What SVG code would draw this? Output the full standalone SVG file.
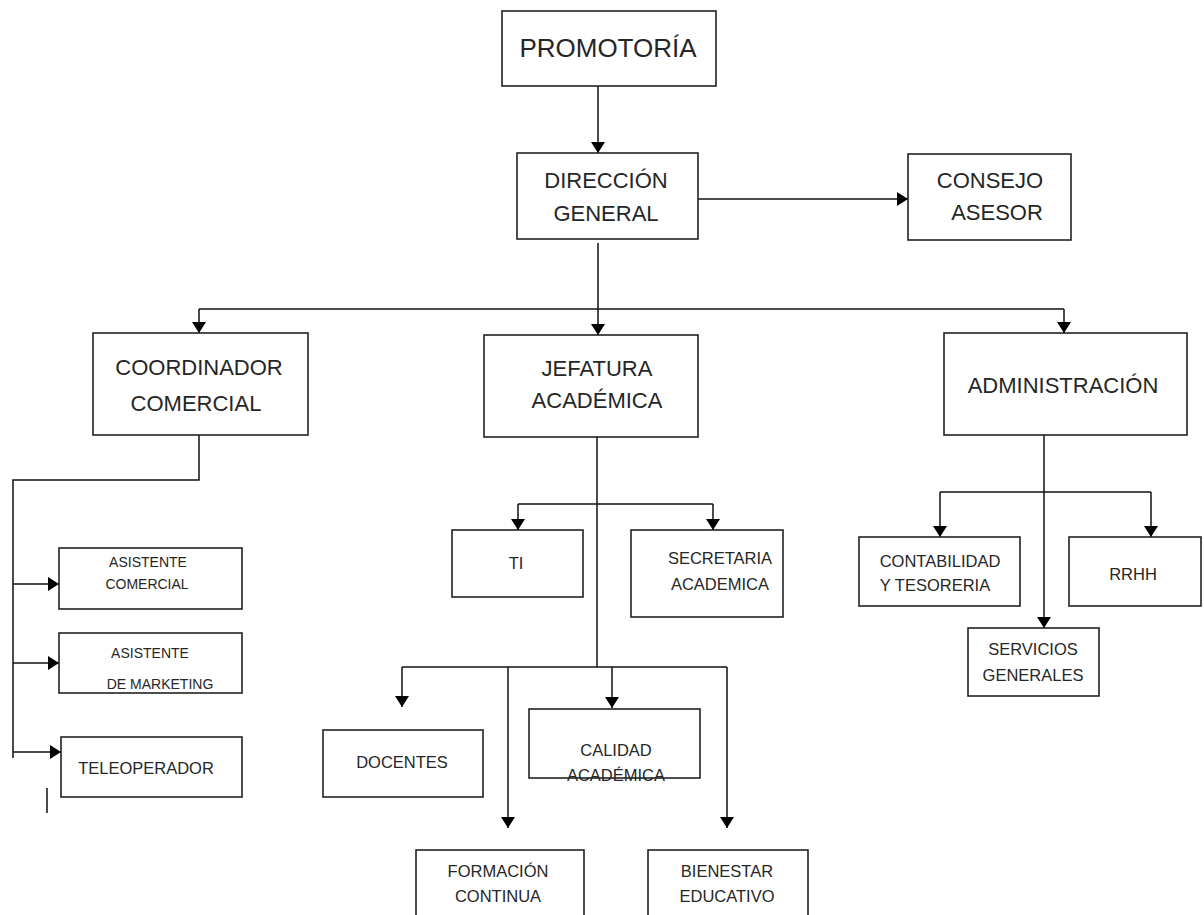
<svg xmlns="http://www.w3.org/2000/svg" width="1204" height="915" viewBox="0 0 1204 915">
<style>
.box{fill:#fff;stroke:#222;stroke-width:1.6}
.t{font-family:"Liberation Sans",Arial,sans-serif;fill:#262626;text-anchor:middle}
.xl{font-size:26px}
.l{font-size:22px}
.m{font-size:16.5px}
.s{font-size:14px}
.c{fill:none;stroke:#111;stroke-width:1.5}
.a{marker-end:url(#ah)}
</style>
<defs>
<marker id="ah" viewBox="0 0 11 14" refX="11" refY="7" markerWidth="11" markerHeight="14" orient="auto" markerUnits="userSpaceOnUse">
<path d="M0,0 L11,7 L0,14 z" fill="#000"/>
</marker>
</defs>
<g id="connectors">
<path class="c a" d="M598,86 V153"/>
<path class="c a" d="M698,199 H908"/>
<path class="c a" d="M598,243 V335"/>
<path class="c" d="M199,309 H1064"/>
<path class="c a" d="M199,309 V333"/>
<path class="c a" d="M1064,309 V333"/>
<path class="c" d="M199,435 V480 H13 V758"/>
<path class="c a" d="M13,584 H59"/>
<path class="c a" d="M13,663 H59"/>
<path class="c a" d="M13,752 H61"/>
<path class="c" d="M47,788 V813"/>
<path class="c" d="M597,437 V667"/>
<path class="c" d="M518,504 H713"/>
<path class="c a" d="M518,504 V530"/>
<path class="c a" d="M713,504 V530"/>
<path class="c" d="M402,667 H727"/>
<path class="c a" d="M402,667 V707"/>
<path class="c a" d="M508,667 V828"/>
<path class="c a" d="M612,667 V708"/>
<path class="c a" d="M727,667 V828"/>
<path class="c a" d="M1044,435 V628"/>
<path class="c" d="M940,492 H1151"/>
<path class="c a" d="M940,492 V537"/>
<path class="c a" d="M1151,492 V537"/>
</g>
<g id="promotoria"><rect class="box" x="502" y="11" width="214" height="75"/><text class="t xl" x="608" y="57">PROMOTORÍA</text></g>
<g id="direccion"><rect class="box" x="517" y="153" width="181" height="86"/><text class="t l" x="606" y="188">DIRECCIÓN</text><text class="t l" x="606" y="221">GENERAL</text></g>
<g id="consejo"><rect class="box" x="908" y="154" width="163" height="86"/><text class="t l" x="990" y="188">CONSEJO</text><text class="t l" x="997" y="220">ASESOR</text></g>
<g id="coordinador"><rect class="box" x="93" y="333" width="215" height="102"/><text class="t l" x="199" y="375">COORDINADOR</text><text class="t l" x="196" y="411">COMERCIAL</text></g>
<g id="jefatura"><rect class="box" x="484" y="335" width="214" height="102"/><text class="t l" x="597" y="376">JEFATURA</text><text class="t l" x="597" y="408">ACADÉMICA</text></g>
<g id="administracion"><rect class="box" x="944" y="333" width="243" height="102"/><text class="t l" x="1063" y="393">ADMINISTRACIÓN</text></g>
<g id="asistente-comercial"><rect class="box" x="59" y="548" width="183" height="61"/><text class="t s" x="148" y="567">ASISTENTE</text><text class="t s" x="147" y="589">COMERCIAL</text></g>
<g id="asistente-marketing"><rect class="box" x="59" y="633" width="183" height="60"/><text class="t s" x="150" y="658">ASISTENTE</text><text class="t s" x="160" y="689">DE MARKETING</text></g>
<g id="teleoperador"><rect class="box" x="61" y="737" width="181" height="60"/><text class="t m" x="146" y="774">TELEOPERADOR</text></g>
<g id="ti"><rect class="box" x="452" y="530" width="131" height="67"/><text class="t m" x="516" y="569">TI</text></g>
<g id="secretaria"><rect class="box" x="631" y="530" width="152" height="87"/><text class="t m" x="720" y="564">SECRETARIA</text><text class="t m" x="720" y="590">ACADEMICA</text></g>
<g id="docentes"><rect class="box" x="323" y="730" width="160" height="67"/><text class="t m" x="402" y="768">DOCENTES</text></g>
<g id="calidad"><rect class="box" x="529" y="709" width="171" height="69"/><text class="t m" x="616" y="756">CALIDAD</text><text class="t m" x="616" y="781">ACADÉMICA</text></g>
<g id="formacion"><rect class="box" x="416" y="850" width="168" height="80"/><text class="t m" x="498" y="877">FORMACIÓN</text><text class="t m" x="498" y="902">CONTINUA</text></g>
<g id="bienestar"><rect class="box" x="648" y="850" width="160" height="80"/><text class="t m" x="727" y="877">BIENESTAR</text><text class="t m" x="727" y="902">EDUCATIVO</text></g>
<g id="contabilidad"><rect class="box" x="859" y="537" width="161" height="69"/><text class="t m" x="940" y="567">CONTABILIDAD</text><text class="t m" x="935" y="591">Y TESORERIA</text></g>
<g id="rrhh"><rect class="box" x="1069" y="537" width="132" height="69"/><text class="t m" x="1133" y="580">RRHH</text></g>
<g id="servicios"><rect class="box" x="968" y="628" width="131" height="68"/><text class="t m" x="1033" y="655">SERVICIOS</text><text class="t m" x="1033" y="681">GENERALES</text></g>
</svg>
